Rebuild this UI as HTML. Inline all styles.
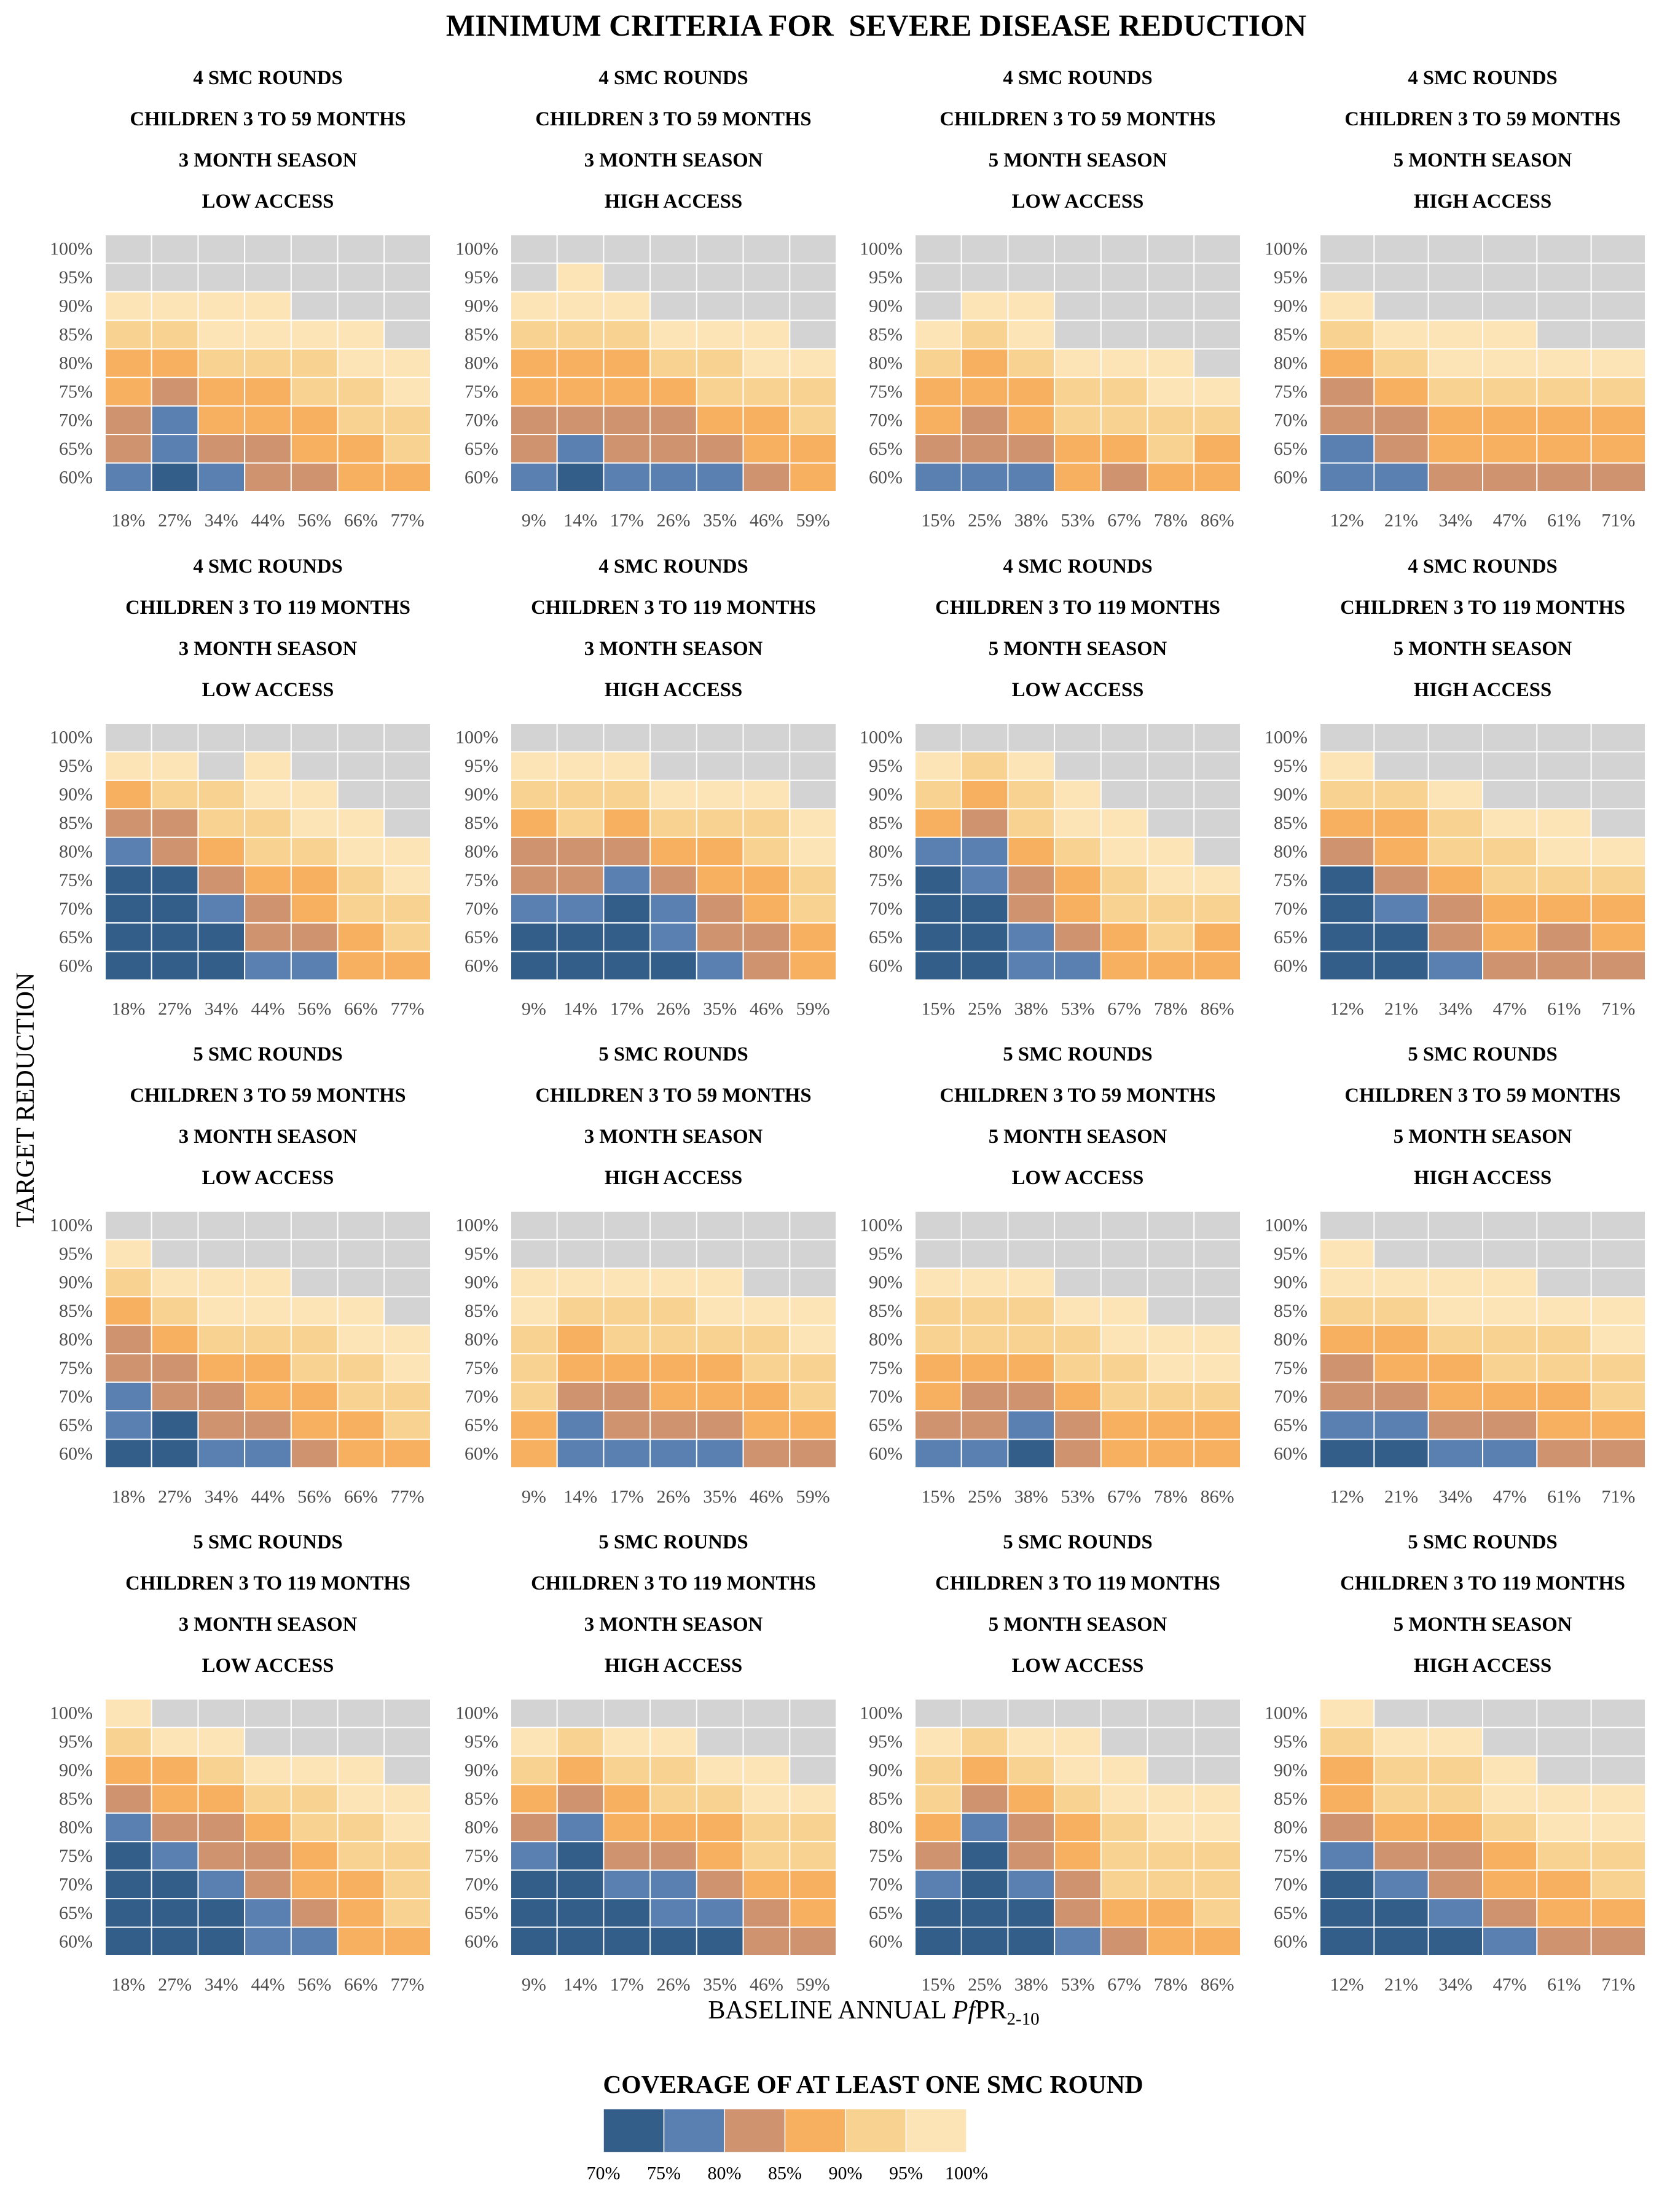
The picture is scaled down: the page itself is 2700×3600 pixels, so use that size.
<!DOCTYPE html>
<html><head><meta charset="utf-8">
<style>
html,body{margin:0;padding:0;background:#fff;}
svg{display:block;font-family:"Liberation Serif",serif;}
</style></head>
<body>
<svg id="chart" width="2700" height="3600" viewBox="0 0 2700 3600" xmlns="http://www.w3.org/2000/svg">
<text x="1426" y="41" text-anchor="middle" dominant-baseline="central" font-size="50" font-weight="bold" style="white-space:pre">MINIMUM CRITERIA FOR&#160; SEVERE DISEASE REDUCTION</text>
<text transform="translate(42,1790) rotate(-90)" text-anchor="middle" dominant-baseline="central" font-size="42">TARGET REDUCTION</text>
<text x="1422" y="3285" text-anchor="middle" font-size="42">BASELINE ANNUAL <tspan font-style="italic">Pf</tspan>PR<tspan font-size="29" dy="10">2-10</tspan></text>
<text x="1421" y="3392" text-anchor="middle" dominant-baseline="central" font-size="41.5" font-weight="bold">COVERAGE OF AT LEAST ONE SMC ROUND</text>
<g id="panels"></g>
<g id="legend"></g>
</svg>
<script>
// categories: 0=70%,1=75%,2=80%,3=85%,4=90%,5=95%,6=not achievable(grey)
const colors = ["#335e8a","#5a80b2","#cf946f","#f7b05f","#f7d291","#fce4b6","#d3d3d3"];
const legendLabels = ["70%","75%","80%","85%","90%","95%","100%"];
const yLabels = ["100%","95%","90%","85%","80%","75%","70%","65%","60%"];
const xTicksA = ["18%","27%","34%","44%","56%","66%","77%"];
const xTicksB = ["9%","14%","17%","26%","35%","46%","59%"];
const xTicksC = ["15%","25%","38%","53%","67%","78%","86%"];
const xTicksD = ["12%","21%","34%","47%","61%","71%"];
const roundsLabels = ["4 SMC ROUNDS","4 SMC ROUNDS","5 SMC ROUNDS","5 SMC ROUNDS"];
const ageLabels = ["CHILDREN 3 TO 59 MONTHS","CHILDREN 3 TO 119 MONTHS","CHILDREN 3 TO 59 MONTHS","CHILDREN 3 TO 119 MONTHS"];
const seasonLabels = ["3 MONTH SEASON","3 MONTH SEASON","5 MONTH SEASON","5 MONTH SEASON"];
const accessLabels = ["LOW ACCESS","HIGH ACCESS","LOW ACCESS","HIGH ACCESS"];
// rows listed from 100% (top) to 60% (bottom)
const p1 = ["6666666","6666666","5555666","4455556","3344455","3233445","2133344","2122334","1012233"];
const p2 = ["6666666","6566666","5556666","4445556","3334455","3333444","2222334","2122233","1011123"];
const p3 = ["6666666","6666666","6556666","5456666","4345556","3334455","3234444","2223343","1113233"];
const p4 = ["666666","666666","566666","455566","345555","234444","223333","123333","112222"];
const p5 = ["6666666","5565666","3445566","2244556","1234455","0023345","0012344","0002234","0001133"];
const p6 = ["6666666","5556666","4445556","3434445","2223345","2212334","1101234","0001223","0000123"];
const p7 = ["6666666","5456666","4345666","3245566","1134556","0123455","0023444","0012343","0011333"];
const p8 = ["666666","566666","445666","334556","234455","023444","012333","002323","001222"];
const p9 = ["6666666","5666666","4555666","3455556","2344455","2233445","1223344","1022334","0011233"];
const p10 = ["6666666","6666666","5555566","5444555","4344445","4333344","4223334","3122233","3111122"];
const p11 = ["6666666","6666666","5556666","4445566","4444555","3334455","3223444","2212333","1102333"];
const p12 = ["666666","566666","555566","445555","334445","233444","223334","112233","001122"];
const p13 = ["5666666","4556666","3345556","2334455","1223445","0122344","0012334","0001234","0001133"];
const p14 = ["6666666","5455666","4344556","3234455","2133344","1022344","0011233","0001123","0000022"];
const p15 = ["6666666","5455666","4345566","4234555","3123455","2023444","1012444","0002334","0001233"];
const p16 = ["566666","455666","344566","344555","233455","122344","012334","001233","000122"];

const panelData = [p1,p2,p3,p4,p5,p6,p7,p8,p9,p10,p11,p12,p13,p14,p15,p16];
const colTicks = [xTicksA,xTicksB,xTicksC,xTicksD];

const NS = "http://www.w3.org/2000/svg";
const panelLeft = [171,831,1489,2148];
const panelTop = [382,1177,1971,2765];
const panelW = 530, panelH = 418;

function mk(tag, attrs, parent){
  const e = document.createElementNS(NS, tag);
  for (const k in attrs) e.setAttribute(k, attrs[k]);
  parent.appendChild(e);
  return e;
}
function xScale(i, n, left){ return left + i * panelW / n; }
function yScale(j, left, top){ return top + j * panelH / yLabels.length; }

const root = document.getElementById("panels");
for (let r = 0; r < 4; r++) {
  for (let c = 0; c < 4; c++) {
    const idx = r*4 + c;
    const data = panelData[idx];
    const ticks = colTicks[c];
    const L = panelLeft[c], T = panelTop[r];
    const g = mk("g", {}, root);
    
    
    const strip = [roundsLabels[r], ageLabels[r], seasonLabels[c], accessLabels[c]];
    const offs = [-255,-188,-121,-54];
    strip.forEach((s, k) => {
      const t = mk("text", {x: L + panelW/2, y: T + offs[k], "text-anchor":"middle", "dominant-baseline":"central", "font-size":"32.7", "font-weight":"bold"}, g);
      
      
      t.textContent = s;
    });
    const n = ticks.length;
    const ch = panelH / yLabels.length;
    for (let j = 0; j < yLabels.length; j++) {
      const row = data[j];
      for (let i = 0; i < n; i++) {
        const v = +row[i];
        const x0 = xScale(i, n, L), x1 = xScale(i+1, n, L);
        const y0 = yScale(j, L, T);
        const rc = mk("rect", {x: x0, y: y0, width: x1-x0, height: ch, fill: colors[v], stroke:"#ffffff", "stroke-width":"2"}, g);
        
        
      }
      const yl = mk("text", {x: L - 20, y: yScale(j, L, T) + ch/2, "text-anchor":"end", "dominant-baseline":"central", "font-size":"30", fill:"#4d4d4d"}, g);
      
      
      yl.textContent = yLabels[j];
    }
    for (let i = 0; i < n; i++) {
      const xl = mk("text", {x: (xScale(i, n, L)+xScale(i+1, n, L))/2, y: T + panelH + 47, "text-anchor":"middle", "dominant-baseline":"central", "font-size":"30", fill:"#4d4d4d"}, g);
      
      
      xl.textContent = ticks[i];
    }
  }
}
const lg = document.getElementById("legend");
const lx0 = 982, lw = 98.5, ly0 = 3432, lh = 71;
for (let k = 0; k < 6; k++) {
  const rc = mk("rect", {x: lx0 + k*lw, y: ly0, width: lw, height: lh, fill: colors[k], stroke:"#fff", "stroke-width":"1.5"}, lg);
  
  
}
for (let k = 0; k < 7; k++) {
  const t = mk("text", {x: lx0 + k*lw, y: 3537, "text-anchor":"middle", "dominant-baseline":"central", "font-size":"30"}, lg);
  
  
  t.textContent = legendLabels[k];
}
</script>
</body></html>
